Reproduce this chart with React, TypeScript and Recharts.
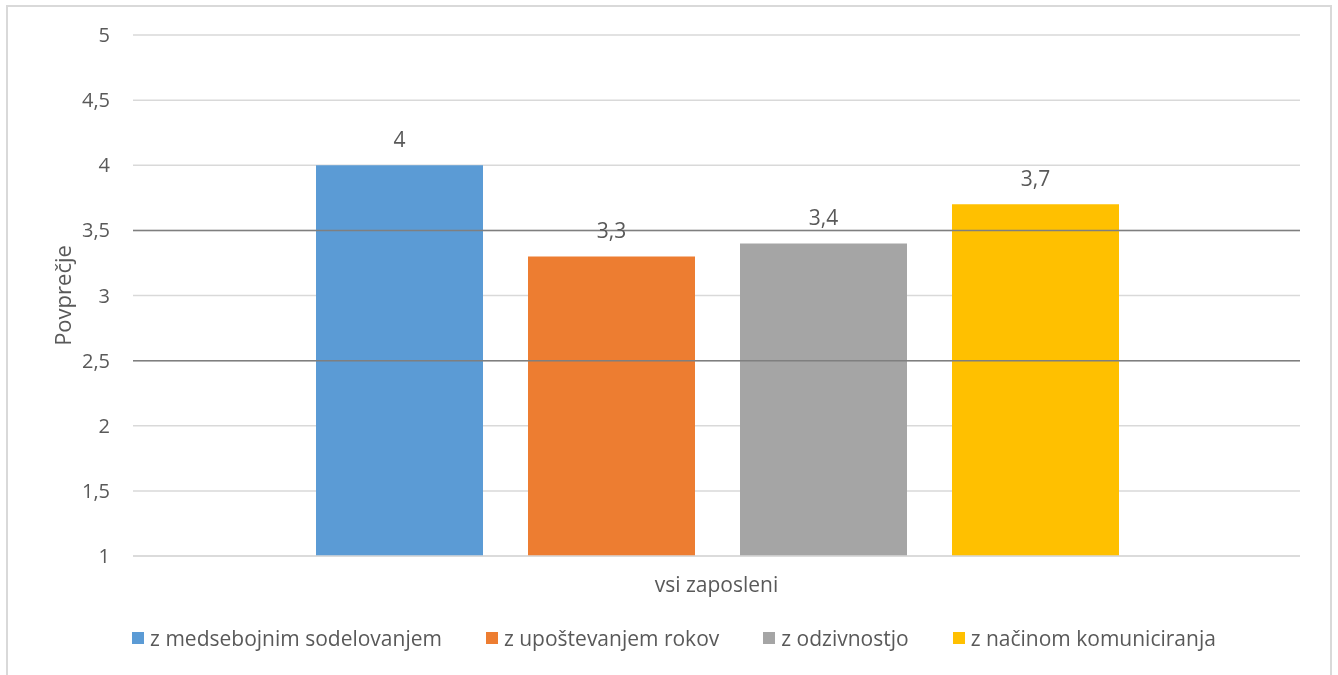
import { BarChart, Bar, XAxis, YAxis, CartesianGrid, ReferenceLine, LabelList } from 'recharts'

const categories = ['vsi zaposleni']
const seriesNames = ['z medsebojnim sodelovanjem', 'z upoštevanjem rokov', 'z odzivnostjo', 'z načinom komuniciranja']
const seriesValues = [4, 3.3, 3.4, 3.7]
const seriesColors = ['#5B9BD5', '#ED7D31', '#A5A5A5', '#FFC000']
const yTicks = [1, 1.5, 2, 2.5, 3, 3.5, 4, 4.5, 5]
const refLines = [3.5, 2.5]

const FONT = '"Open Sans", sans-serif'
const TEXT = '#595959'

const fmt = (v: any) => String(v).replace('.', ',')

export default function App() {
  // one row, one key per series
  const data = categories.map((c) => {
    const row: any = { name: c }
    seriesNames.forEach((s, i) => { row['s' + i] = seriesValues[i] })
    return row
  })

  return (
    <div style={{ position: 'relative', width: 1322, height: 672, fontFamily: FONT }}>
      {/* chart frame */}
      <div style={{ position: 'fixed', left: 6, top: 5, width: 1322, height: 700, border: '2px solid #d9d9d9', pointerEvents: 'none' }} />
      <BarChart
        width={1322}
        height={672}
        data={data}
        margin={{ top: 27, right: 30, left: 0, bottom: 64 }}
        barCategoryGap={183}
        barGap={45}
        style={{ position: 'absolute', left: 0, top: 0 }}
      >
        <CartesianGrid vertical={false} stroke="#d9d9d9" strokeWidth={1.5} />
        <XAxis
          dataKey="name"
          height={60}
          tickLine={false}
          axisLine={{ stroke: '#d9d9d9', strokeWidth: 1.5 }}
          tickMargin={15}
          tick={{ fill: TEXT, fontSize: 21, fontFamily: FONT }}
        />
        <YAxis
          width={125}
          domain={[1, 5]}
          ticks={yTicks}
          interval={0}
          tickLine={false}
          axisLine={false}
          tickMargin={17}
          tickFormatter={fmt}
          tick={{ fill: TEXT, fontSize: 20, fontFamily: FONT }}
          label={{ value: 'Povprečje', angle: -90, position: 'insideLeft', offset: 55, fill: TEXT, fontSize: 22, fontFamily: FONT, style: { textAnchor: 'middle' } }}
        />
        {seriesNames.map((s, i) => (
          <Bar key={s} dataKey={'s' + i} name={s} fill={seriesColors[i]} isAnimationActive={false}>
            <LabelList dataKey={'s' + i} position="top" offset={18} formatter={fmt} fill={TEXT} fontSize={21} fontFamily={FONT} />
          </Bar>
        ))}
        {refLines.map((v) => (
          <ReferenceLine key={v} y={v} stroke="#7f7f7f" strokeWidth={1.5} />
        ))}
      </BarChart>
      <div style={{ position: 'absolute', top: 616, left: 0, width: 1322, display: 'flex', justifyContent: 'center', gap: 44, paddingLeft: 10, boxSizing: 'border-box' }}>
        {seriesNames.map((s, i) => (
          <div key={s} style={{ display: 'flex', alignItems: 'center', gap: 6 }}>
            <span style={{ width: 12, height: 12, backgroundColor: seriesColors[i], display: 'inline-block' }}></span>
            <span style={{ color: TEXT, fontSize: 21 }}>{s}</span>
          </div>
        ))}
      </div>
    </div>
  )
}
